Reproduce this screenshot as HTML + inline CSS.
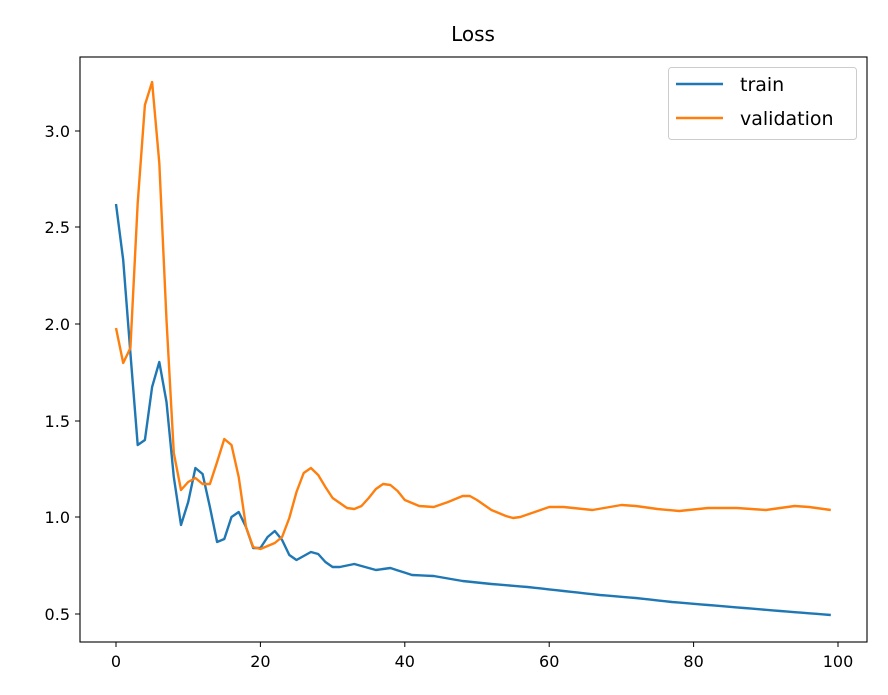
<!DOCTYPE html>
<html><head><style>
body{margin:0;background:#fff}
svg{display:block;font-family:"DejaVu Sans","Liberation Sans",sans-serif}
</style></head><body>
<svg id="s" width="888" height="695" xmlns="http://www.w3.org/2000/svg">
<rect width="888" height="695" fill="#fff"/>
<text x="473" y="41" font-size="20" text-anchor="middle">Loss</text>
<g id="ticks" font-size="16" fill="#000"></g>
<polyline id="tr" fill="none" stroke="#1f77b4" stroke-width="2.4" stroke-linejoin="round"/>
<polyline id="va" fill="none" stroke="#ff7f0e" stroke-width="2.4" stroke-linejoin="round"/>
<rect x="80" y="57" width="787" height="585" fill="none" stroke="#000" stroke-width="1.1"/>
<rect x="668.5" y="67.5" width="188" height="72" rx="3" fill="#fff" fill-opacity="0.8" stroke="#ccc"/>
<line x1="676" y1="84" x2="723" y2="84" stroke="#1f77b4" stroke-width="2.4"/>
<line x1="676" y1="118" x2="723" y2="118" stroke="#ff7f0e" stroke-width="2.4"/>
<text x="740" y="91" font-size="19">train</text>
<text x="740" y="125" font-size="19">validation</text>
</svg>
<script>
function interp(o){var k=Object.keys(o).map(Number).sort((a,b)=>a-b),r=[];
for(var i=0;i<=99;i++){var a=k[0],b=k[k.length-1];for(var j=0;j<k.length;j++){if(k[j]<=i)a=k[j];if(k[j]>=i){b=k[j];break;}}
r.push(a==b?o[a]:o[a]+(o[b]-o[a])*(i-a)/(b-a));}return r;}
var tr={0:204,1:260,2:353,3:445,4:440,5:387,6:362,7:402,8:477,9:525,10:502,11:468,12:474,13:507,14:542,15:539,16:517,17:512,18:527,19:548,20:548,21:537,22:531,23:540,24:555,25:560,26:556,27:552,28:554,29:562,30:567,31:567,33:564,36:570,38:568,41:575,44:576,48:581,52:584,57:587,62:591,67:595,72:598,77:602,82:605,87:608,92:611,99:615};
var va={0:328,1:363,2:348,3:203,4:105,5:82,6:163,7:320,8:453,9:490,10:482,11:478,12:484,13:484,14:462,15:439,16:445,17:477,18:527,19:547,20:549,21:546,22:543,23:537,24:518,25:492,26:473,27:468,28:475,29:487,30:498,32:508,33:509,34:506,35:498,36:489,37:484,38:485,39:491,40:500,42:506,44:507,46:502,48:496,49:496,50:500,52:510,54:516,55:518,56:517,58:512,60:507,62:507,66:510,70:505,72:506,75:509,78:511,82:508,86:508,90:510,94:506,96:507,99:510};
function pts(a){return a.map((y,i)=>(116+7.22*i).toFixed(1)+","+y).join(" ");}
document.getElementById("tr").setAttribute("points",pts(interp(tr)));
document.getElementById("va").setAttribute("points",pts(interp(va)));
var g=document.getElementById("ticks"),h="";
[0,20,40,60,80,100].forEach(v=>{var x=116+7.22*v;h+=`<line x1="${x}" y1="642" x2="${x}" y2="647" stroke="#000"/><text x="${x}" y="667" text-anchor="middle">${v}</text>`;});
[[0.5,614],[1.0,517],[1.5,421],[2.0,324],[2.5,227],[3.0,131]].forEach(p=>{h+=`<line x1="75" y1="${p[1]}" x2="80" y2="${p[1]}" stroke="#000"/><text x="70" y="${p[1]+6}" text-anchor="end">${p[0].toFixed(1)}</text>`;});
g.innerHTML=h;
</script>
</body></html>
